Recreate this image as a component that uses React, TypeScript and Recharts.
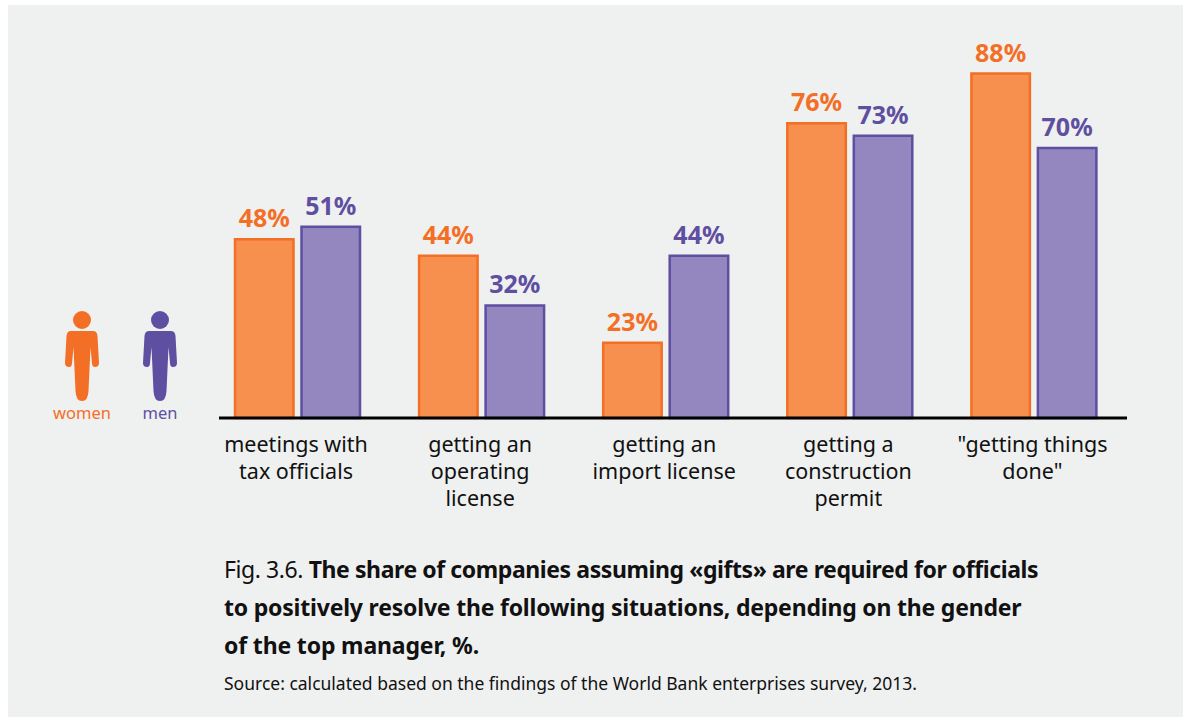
import { BarChart, Bar, XAxis, YAxis, LabelList, Legend } from 'recharts';

const categories = ['meetings with tax officials', 'getting an operating license', 'getting an import license', 'getting a construction permit', '"getting things done"'];
const tickLines = [
  ['meetings with', 'tax officials'],
  ['getting an', 'operating', 'license'],
  ['getting an', 'import license'],
  ['getting a', 'construction', 'permit'],
  ['"getting things', 'done"'],
];
const women = [48, 44, 23, 76, 88];
const men = [51, 32, 44, 73, 70];

const tableData = categories.map((name, i) => ({ name, women: women[i], men: men[i] }));

const FONT = '"Noto Sans", "Open Sans", sans-serif';
const ORANGE = '#F36F25';
const ORANGE_FILL = '#F78F4F';
const PURPLE = '#5E4FA0';
const PURPLE_FILL = '#9486BF';

function CategoryTick({ x, y, payload }: any) {
  const lines = tickLines[payload.index] || [];
  return (
    <text x={x} textAnchor="middle" fontFamily={FONT} fontSize={21.5} fill="#111">
      {lines.map((line, i) => (
        <tspan key={line} x={x - 1} y={y + 34 + i * 27 - 8}>{line}</tspan>
      ))}
    </text>
  );
}

function Person({ color, label }: { color: string; label: string }) {
  return (
    <div style={{ width: 78, textAlign: 'center', color, fontFamily: FONT, fontSize: 16.5 }}>
      <svg width="34" height="90" viewBox="0 0 34 90" style={{ display: 'block', margin: '0 auto' }}>
        <circle cx="17" cy="9" r="9" fill={color} />
        <path d="M6 20 H28 Q32 20 32.500 25 L34 52 Q34 56 30 56 Q27 56 27 52 L25.500 36 L23.500 80 Q23 90 17 90 Q11 90 10.500 80 L8.500 36 L7 52 Q7 56 4 56 Q0 56 0 52 L1.500 25 Q2 20 6 20 Z" fill={color} />
      </svg>
      {label}
    </div>
  );
}

function PeopleLegend() {
  return (
    <div style={{ display: 'flex', height: 0 }}>
      <Person color={ORANGE} label="women" />
      <Person color={PURPLE} label="men" />
    </div>
  );
}

export default function App() {
  return (
    <div style={{ position: 'absolute', left: 0, top: 0, width: 1183, height: 719, background: '#fff', overflow: 'hidden' }}>
      <div style={{ position: 'absolute', left: 8, top: 5, right: 0, bottom: 2, background: '#EFF0F0' }} />
      <div style={{ position: 'absolute', left: 0, top: 0 }}>
        <BarChart width={1183} height={719} data={tableData} barSize={58.5} barGap={8} margin={{ top: 40, right: 56, left: 219, bottom: 0 }}>
          <XAxis dataKey="name" height={301} interval={0} tickLine={false} axisLine={{ stroke: '#000', strokeWidth: 3 }} tick={<CategoryTick />} padding={{ left: -14, right: 1.5 }} />
          <YAxis hide domain={[4.83, 96.1]} />
          <Legend content={<PeopleLegend />} wrapperStyle={{ left: 43, top: 311, width: 160, height: 0, bottom: 'auto' }} />
          <Bar dataKey="women" fill={ORANGE_FILL} stroke={ORANGE} strokeWidth={2.5} isAnimationActive={false}>
            <LabelList dataKey="women" position="top" offset={12} formatter={(v: number) => `${v}%`} fill={ORANGE} fontFamily={FONT} fontSize={25} fontWeight={700} />
          </Bar>
          <Bar dataKey="men" fill={PURPLE_FILL} stroke={PURPLE} strokeWidth={2.5} isAnimationActive={false}>
            <LabelList dataKey="men" position="top" offset={12} formatter={(v: number) => `${v}%`} fill={PURPLE} fontFamily={FONT} fontSize={25} fontWeight={700} />
          </Bar>
        </BarChart>
      </div>
      <div style={{ position: 'absolute', left: 224, top: 550, fontFamily: FONT, fontSize: 23, lineHeight: '38px', color: '#111', whiteSpace: 'nowrap' }}>
        <div style={{ letterSpacing: -0.41 }}>Fig. 3.6. <b>The share of companies assuming «gifts» are required for officials</b></div>
        <div style={{ letterSpacing: -0.2 }}><b>to positively resolve the following situations, depending on the gender</b></div>
        <div style={{ letterSpacing: -0.15 }}><b>of the top manager, %.</b></div>
      </div>
      <div style={{ position: 'absolute', left: 224, top: 671, fontFamily: FONT, fontSize: 17.5, color: '#111', whiteSpace: 'nowrap' }}>
        Source: calculated based on the findings of the World Bank enterprises survey, 2013.
      </div>
    </div>
  );
}
